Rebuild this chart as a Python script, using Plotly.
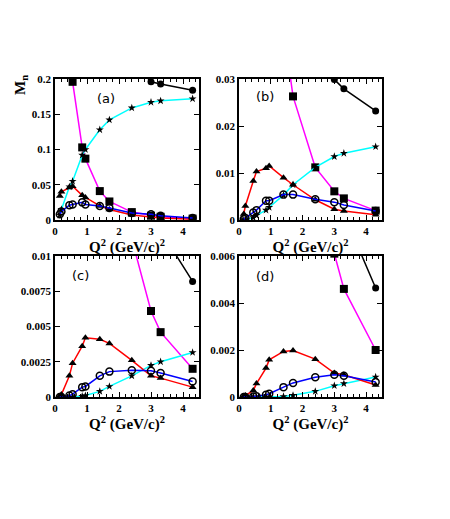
import plotly.graph_objects as go

Q2 = [0.15, 0.2, 0.45, 0.55, 0.85, 0.95, 1.4, 1.7, 2.4, 3.0, 3.3, 4.3]

# magenta (squares) - same in all panels
mag = [0.9, 0.7, 0.30, 0.196, 0.103, 0.087, 0.041, 0.0263, 0.0112, 0.0061, 0.0046, 0.0020]

# panel (a)
a_black = [0.9, 0.85, 0.6, 0.5, 0.4, 0.37, 0.3, 0.27, 0.226, 0.196, 0.193, 0.184]
a_red   = [0.034, 0.040, 0.046, 0.048, 0.035, 0.032, 0.020, 0.015, 0.007, 0.004, 0.0028, 0.0012]
a_blue  = [0.008, 0.012, 0.021, 0.022, 0.025, 0.022, 0.020, 0.017, 0.010, 0.008, 0.006, 0.003]
a_cyan  = [0.007, 0.015, 0.047, 0.055, 0.092, 0.100, 0.128, 0.142, 0.159, 0.167, 0.169, 0.172]

# panel (b)
b_black = [0.4, 0.35, 0.2, 0.16, 0.11, 0.1, 0.07, 0.055, 0.038, 0.0299, 0.0279, 0.0232]
b_red   = [0.0013, 0.0030, 0.0083, 0.0103, 0.0110, 0.0115, 0.0090, 0.0075, 0.0043, 0.0023, 0.0019, 0.0011]
b_blue  = [0.0002, 0.0004, 0.0016, 0.0021, 0.0041, 0.0041, 0.0054, 0.0054, 0.0044, 0.0038, 0.0032, 0.0019]
b_cyan  = [0.0, 0.0001, 0.0005, 0.0010, 0.0021, 0.0027, 0.0053, 0.0075, 0.0112, 0.0135, 0.0142, 0.0156]

# panel (c)
c_black = [0.2, 0.15, 0.08, 0.07, 0.05, 0.045, 0.03, 0.024, 0.016, 0.0129, 0.0118, 0.0082]
c_red   = [0.00005, 0.00017, 0.0015, 0.0024, 0.0036, 0.0042, 0.0041, 0.0038, 0.0026, 0.0015, 0.00134, 0.0007]
c_blue  = [0.0, 0.0, 0.0001, 0.0002, 0.0007, 0.00075, 0.0015, 0.0018, 0.0019, 0.00186, 0.0017, 0.0011]
c_cyan  = [0.0, 0.0, 0.0, 0.0, 0.00005, 0.0001, 0.0004, 0.00075, 0.0015, 0.00224, 0.0025, 0.00316]

# panel (d)
d_black = [0.1, 0.08, 0.04, 0.035, 0.025, 0.022, 0.015, 0.012, 0.0095, 0.0085, 0.0078, 0.00464]
d_red   = [0.00003, 0.00006, 0.00028, 0.00057, 0.00123, 0.00158, 0.00194, 0.00198, 0.00161, 0.00102, 0.00095, 0.00051]
d_blue  = [0.0, 0.0, 0.00002, 0.00003, 0.0001, 0.00014, 0.00042, 0.0006, 0.00084, 0.00095, 0.0009, 0.00064]
d_cyan  = [0.0, 0.0, 0.0, 0.0, 0.0, 0.0, 0.00002, 0.00007, 0.00024, 0.00048, 0.00057, 0.00085]

panels = [
    ("(a)", a_black, a_red, a_blue, a_cyan, [0, 0.05, 0.1, 0.15, 0.2], ["0", "0.05", "0.1", "0.15", "0.2"]),
    ("(b)", b_black, b_red, b_blue, b_cyan, [0, 0.01, 0.02, 0.03], ["0", "0.01", "0.02", "0.03"]),
    ("(c)", c_black, c_red, c_blue, c_cyan, [0, 0.0025, 0.005, 0.0075, 0.01], ["0", "0.0025", "0.005", "0.0075", "0.01"]),
    ("(d)", d_black, d_red, d_blue, d_cyan, [0, 0.002, 0.004, 0.006], ["0", "0.002", "0.004", "0.006"]),
]

W, H = 450, 519
OFF = 8  # page body margin
boxes = [(55, 199, 79, 220), (239, 382, 79, 220), (55, 199, 256, 397), (239, 382, 256, 397)]
label_pos = [(106, 98), (265, 96), (80, 275), (265, 277)]

def px(v):
    return (v - OFF) / W

def py(v):
    return 1 - (v - OFF) / H

fig = go.Figure()
serif = "Liberation Serif"
layout = {}
annotations = []

for i, (lab, blk, red, blu, cyn, yv, yt) in enumerate(panels):
    n = "" if i == 0 else str(i + 1)
    xa, ya = "x" + n, "y" + n
    lw = 1.5
    fig.add_trace(go.Scatter(x=Q2, y=mag, xaxis=xa, yaxis=ya, mode="lines+markers",
                             line=dict(color="#ff00ff", width=lw),
                             marker=dict(symbol="square", size=8, color="black")))
    fig.add_trace(go.Scatter(x=Q2, y=blk, xaxis=xa, yaxis=ya, mode="lines+markers",
                             line=dict(color="black", width=lw),
                             marker=dict(symbol="circle", size=7, color="black")))
    fig.add_trace(go.Scatter(x=Q2, y=cyn, xaxis=xa, yaxis=ya, mode="lines+markers",
                             line=dict(color="#00ffff", width=lw),
                             marker=dict(symbol="star", size=6, color="black")))
    fig.add_trace(go.Scatter(x=Q2, y=red, xaxis=xa, yaxis=ya, mode="lines+markers",
                             line=dict(color="#ff0000", width=lw),
                             marker=dict(symbol="triangle-up", size=7, color="black")))
    fig.add_trace(go.Scatter(x=Q2, y=blu, xaxis=xa, yaxis=ya, mode="lines+markers",
                             line=dict(color="#0000ff", width=lw),
                             marker=dict(symbol="circle-open", size=7, color="black",
                                         line=dict(width=1.5, color="black"))))
    x0, x1, yt0, yb0 = boxes[i]
    layout["xaxis" + n] = dict(
        domain=[px(x0), px(x1)], anchor=ya, range=[0, 4.5], automargin=False,
        tickvals=[0, 1, 2, 3, 4], ticktext=["0", "1", "2", "3", "4"],
        ticks="inside", ticklen=5, tickwidth=1.2, tickcolor="black",
        minor=dict(dtick=0.2, ticks="inside", ticklen=3, tickcolor="black", tickwidth=1),
        showline=True, linecolor="black", linewidth=1.5, mirror="ticks",
        showgrid=False, zeroline=False,
        tickfont=dict(family=serif, size=11, color="black", weight="bold"),
        title=dict(text="Q<sup>2</sup> (GeV/c)<sup>2</sup>", standoff=1,
                   font=dict(family=serif, size=15, color="black", weight="bold")),
    )
    layout["yaxis" + n] = dict(
        domain=[py(yb0), py(yt0)], anchor=xa, range=[0, yv[-1]], automargin=False,
        tickvals=yv, ticktext=yt,
        ticks="inside", ticklen=5, tickwidth=1.2, tickcolor="black",
        showline=True, linecolor="black", linewidth=1.5, mirror="ticks",
        showgrid=False, zeroline=False,
        tickfont=dict(family=serif, size=11, color="black", weight="bold"),
    )
    lx, ly = label_pos[i]
    annotations.append(dict(text=lab, x=px(lx), y=py(ly), xref="paper", yref="paper",
                            xanchor="center", yanchor="middle",
                            showarrow=False, font=dict(family="DejaVu Sans", size=13, color="black")))

annotations.append(dict(text="<b>M<sub>n</sub></b>", x=px(21), y=py(85), xref="paper", yref="paper",
                        xanchor="center", yanchor="middle",
                        textangle=-90, showarrow=False,
                        font=dict(family=serif, size=15, color="black")))

fig.update_layout(width=W, height=H, margin=dict(l=0, r=0, t=0, b=0),
                  paper_bgcolor="white", plot_bgcolor="white", showlegend=False,
                  annotations=annotations, **layout)

fig.write_html("out.html")
